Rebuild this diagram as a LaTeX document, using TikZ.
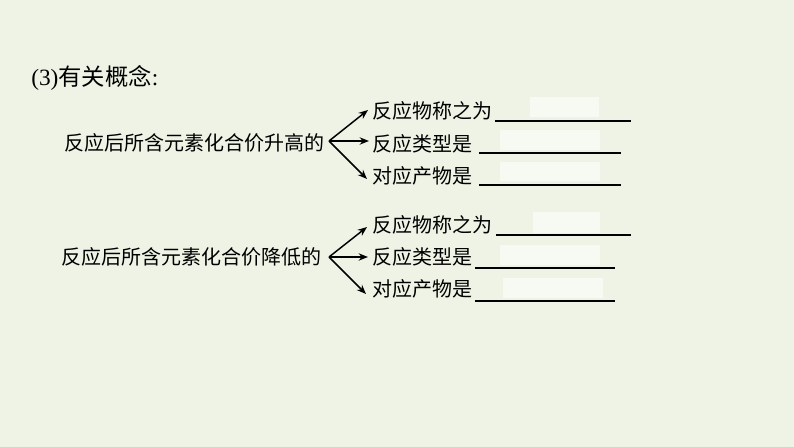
\documentclass[tikz,border=0pt]{standalone}
\usepackage{fontspec}
\setmainfont{Liberation Serif}
\newfontfamily\cjk{Noto Sans CJK SC}
\usetikzlibrary{arrows.meta}
\definecolor{bgc}{RGB}{238,243,229}
\begin{document}
\begin{tikzpicture}[x=0.75pt,y=-0.75pt,
  txt/.style={inner sep=0pt,anchor=west,font=\fontsize{15pt}{18pt}\selectfont\cjk},
  ttl/.style={inner sep=0pt,anchor=west,font=\fontsize{17.5pt}{21pt}\selectfont\cjk},
  arr/.style={line width=1.1pt,-{Stealth[length=7pt,width=5.5pt]}},
  blankline/.style={line width=1.1pt},
  erased/.style={fill=white,fill opacity=0.55,draw=none}]
\useasboundingbox[fill=bgc] (0,0) rectangle (794,447);
% title
\node[ttl] (title) at (31,78) {{\rmfamily(3)}有关概念{\rmfamily:}};
% group 1
\node[txt] (g1) at (64,143) {反应后所含元素化合价升高的};
\coordinate (o1) at (329,141);
\node[txt] (a1) at (372,111) {反应物称之为};
\node[txt] (b1) at (372,144) {反应类型是};
\node[txt] (c1) at (372,176) {对应产物是};
\draw[arr] (o1) -- (368,110) coordinate (ta1);
\draw[arr] (o1) -- (369,141) coordinate (tb1);
\draw[arr] (o1) -- (367,179) coordinate (tc1);
\fill[erased] (530,97) rectangle (599,117);
\fill[erased] (500,130) rectangle (600,150);
\fill[erased] (500,162) rectangle (600,181);
\draw[blankline] (495,121) coordinate (la1) -- (631,121) coordinate (ra1);
\draw[blankline] (479,153) coordinate (lb1) -- (621,153) coordinate (rb1);
\draw[blankline] (479,185) coordinate (lc1) -- (621,185) coordinate (rc1);
% group 2
\node[txt] (g2) at (61,257) {反应后所含元素化合价降低的};
\coordinate (o2) at (329,257);
\node[txt] (a2) at (372,225) {反应物称之为};
\node[txt] (b2) at (372,257) {反应类型是};
\node[txt] (c2) at (372,289) {对应产物是};
\draw[arr] (o2) -- (367,227) coordinate (ta2);
\draw[arr] (o2) -- (368,257) coordinate (tb2);
\draw[arr] (o2) -- (366,294) coordinate (tc2);
\fill[erased] (533,212) rectangle (600,233);
\fill[erased] (500,245) rectangle (600,265);
\fill[erased] (503,278) rectangle (603,298);
\draw[blankline] (496,235) coordinate (la2) -- (631,235) coordinate (ra2);
\draw[blankline] (475,268) coordinate (lb2) -- (615,268) coordinate (rb2);
\draw[blankline] (475,301) coordinate (lc2) -- (615,301) coordinate (rc2);
\end{tikzpicture}
\end{document}
